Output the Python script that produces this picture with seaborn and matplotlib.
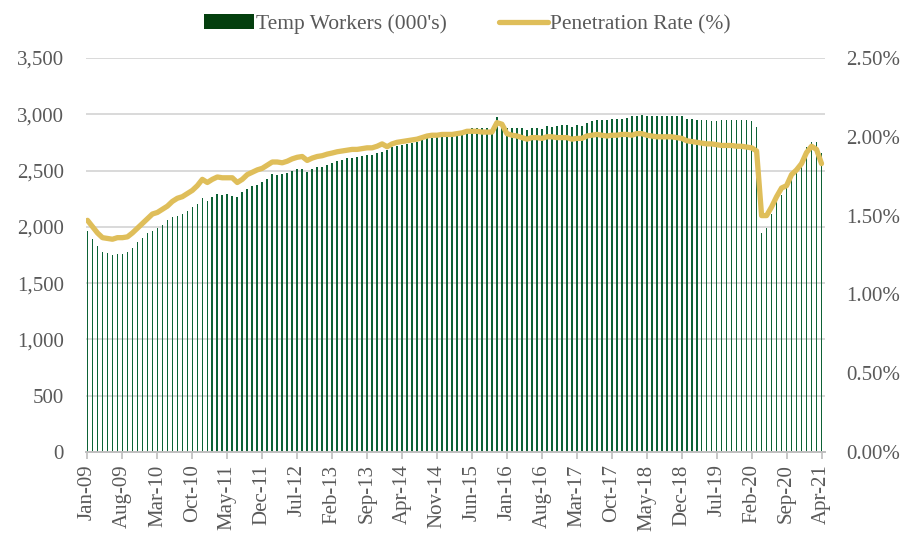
import numpy as np
import pandas as pd
import matplotlib
matplotlib.use("Agg")
import matplotlib.pyplot as plt
import seaborn as sns
from matplotlib.patches import Patch
from matplotlib.lines import Line2D
from matplotlib.ticker import FuncFormatter

# monthly data, Jan-09 .. Apr-21
months = pd.date_range("2009-01-01", "2021-04-01", freq="MS")

temp_workers = [
    1963, 1892, 1830, 1777, 1768, 1750, 1759, 1755, 1777, 1812, 1866, 1901, 1946, 1963, 1990, 2017,
    2061, 2087, 2096, 2114, 2141, 2176, 2203, 2256, 2230, 2265, 2292, 2283, 2292,
    2274, 2265, 2310, 2336, 2363, 2372, 2398, 2425, 2470, 2461, 2470, 2478, 2496, 2514, 2514, 2487,
    2514, 2532, 2532, 2550, 2567, 2585, 2594, 2612, 2612, 2621, 2630, 2638, 2638,
    2656, 2665, 2683, 2709, 2718, 2727, 2736, 2745, 2754, 2780, 2789, 2789, 2798, 2798, 2816, 2816,
    2825, 2834, 2860, 2878, 2878, 2878, 2878, 2869, 2976, 2887, 2878, 2878, 2878,
    2878, 2860, 2878, 2878, 2869, 2896, 2887, 2896, 2905, 2905, 2887, 2905, 2896, 2923, 2940, 2949,
    2949, 2949, 2958, 2958, 2958, 2967, 2985, 2985, 2994, 2985, 2985, 2985, 2985,
    2985, 2985, 2985, 2985, 2958, 2958, 2949, 2949, 2949, 2940, 2940, 2949, 2949, 2949, 2949, 2949,
    2949, 2940, 2887, 1945, 1990, 2110, 2220, 2283, 2354, 2461, 2523, 2594, 2709, 2754, 2754, 2656,
]

penetration_rate = [
    1.47, 1.43, 1.39, 1.36, 1.355, 1.35, 1.36, 1.36, 1.365, 1.39, 1.42, 1.45, 1.48, 1.51, 1.52, 1.54,
    1.56, 1.59, 1.61, 1.62, 1.64, 1.66, 1.69, 1.73, 1.71, 1.73, 1.745, 1.74, 1.74,
    1.74, 1.71, 1.73, 1.76, 1.775, 1.79, 1.80, 1.82, 1.84, 1.84, 1.835, 1.845, 1.86, 1.87, 1.875, 1.85,
    1.865, 1.875, 1.88, 1.89, 1.897, 1.905, 1.91, 1.915, 1.92, 1.92, 1.925, 1.93, 1.93,
    1.94, 1.955, 1.937, 1.955, 1.965, 1.97, 1.975, 1.98, 1.985, 1.995, 2.005, 2.01, 2.01, 2.015, 2.015,
    2.015, 2.02, 2.025, 2.035, 2.035, 2.035, 2.03, 2.03, 2.03, 2.09, 2.08, 2.02, 2.01, 2.005,
    1.995, 1.985, 1.995, 1.995, 1.99, 2.0, 2.0, 1.995, 1.995, 1.995, 1.985, 1.99, 1.99, 2.005, 2.01,
    2.015, 2.01, 2.005, 2.01, 2.01, 2.015, 2.015, 2.01, 2.02, 2.02, 2.01, 2.005, 2.0, 2.0,
    2.0, 2.0, 1.995, 1.99, 1.975, 1.97, 1.965, 1.96, 1.955, 1.955, 1.95, 1.945, 1.945, 1.945, 1.94,
    1.94, 1.935, 1.93, 1.91, 1.50, 1.50, 1.555, 1.62, 1.675, 1.69, 1.76, 1.79, 1.83, 1.90, 1.94, 1.92, 1.83,
]

tick_labels = [m.strftime("%b-%y") for m in months]

df = pd.DataFrame({"idx": np.arange(len(months)), "workers": temp_workers, "rate": penetration_rate})

bar_color = "#0d6236"
line_color = "#dfbe5a"
text_color = "#595959"
grid_color = "#d9d9d9"

sns.set_theme(style="white")
plt.rcParams["font.family"] = ["Liberation Serif", "DejaVu Serif"]

fig = plt.figure(figsize=(9.08, 5.37), dpi=100)
ax = fig.add_axes([0.0947, 0.1583, 0.8139, 0.7337])

sns.barplot(data=df, x="idx", y="workers", ax=ax, color=bar_color, width=0.33,
            saturation=1, edgecolor="none")
ax.set_ylim(0, 3500)
ax.set_yticks(np.arange(0, 3501, 500))
ax.yaxis.set_major_formatter(FuncFormatter(lambda v, p: f"{int(v):,}"))
ax.grid(axis="y", color=grid_color, linewidth=1.4)
ax.set_axisbelow(True)

ax2 = ax.twinx()
sns.lineplot(data=df, x="idx", y="rate", ax=ax2, color=line_color, linewidth=3.8)
ax2.set_ylim(0, 2.5)
ax2.set_yticks(np.arange(0, 2.51, 0.5))
ax2.yaxis.set_major_formatter(FuncFormatter(lambda v, p: f"{v:.2f}%"))

ax.set_xlim(-0.3, len(months) - 0.3)
ticks = np.arange(0, len(months), 7)
ax.set_xticks(ticks)
ax.set_xticklabels([tick_labels[i] for i in ticks], rotation=90)

for a in (ax, ax2):
    a.set_xlabel("")
    a.set_ylabel("")
    for s in ("left", "right", "top", "bottom"):
        a.spines[s].set_visible(False)
ax.spines["bottom"].set_visible(True)
ax.spines["bottom"].set_color("#bfbfbf")
ax.spines["bottom"].set_linewidth(1.4)

ax.tick_params(axis="x", bottom=True, length=5, width=1.2, color="#bfbfbf",
               labelsize=15, labelcolor=text_color, pad=4)
ax.tick_params(axis="y", left=False, labelsize=15, labelcolor=text_color, pad=10)
ax2.tick_params(axis="y", right=False, labelsize=15, labelcolor=text_color, pad=9)

handles = [Patch(facecolor="#043f0e", edgecolor="none"),
           Line2D([], [], color=line_color, linewidth=3.8)]
fig.legend(handles, ["Temp Workers (000's)", "Penetration Rate (%)"],
           loc="upper center", bbox_to_anchor=(0.515, 1.01), ncol=2, frameon=False,
           fontsize=15.5, labelcolor=text_color, handlelength=2.3, handletextpad=0.1,
           columnspacing=2.4)

fig.savefig("out.png", dpi=100)
